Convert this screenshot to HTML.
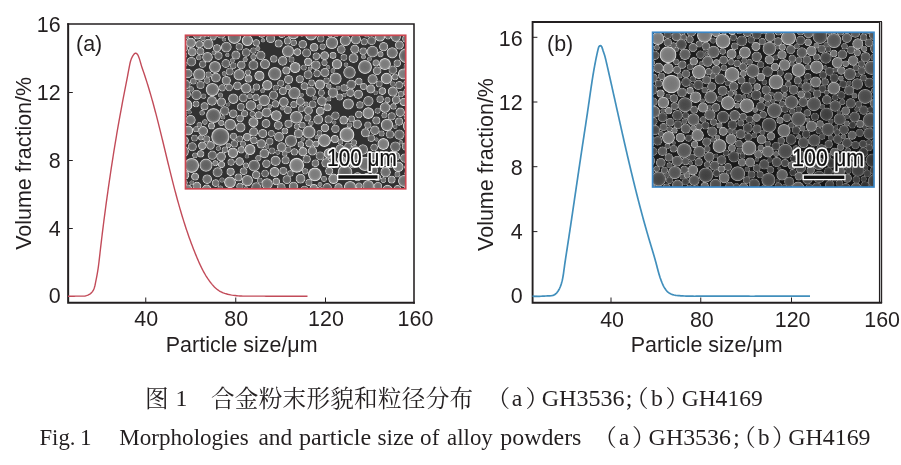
<!DOCTYPE html>
<html><head><meta charset="utf-8"><title>Fig. 1</title>
<style>
html,body{margin:0;padding:0;background:#fff;}
body{width:901px;height:465px;overflow:hidden;position:relative;font-family:"Liberation Sans",sans-serif;}
svg{position:absolute;left:0;top:0;filter:blur(0.35px);}
text{font-family:"Liberation Sans",sans-serif;fill:#231f20;}
.t{font-size:22px;}
.cap{font-family:"Liberation Serif",serif;fill:#231f20;}
.cjk{font-family:"Liberation Serif","Noto Serif CJK SC",serif;fill:#231f20;font-size:23.6px;}
</style></head><body>
<svg width="901" height="465" viewBox="0 0 901 465">
<rect width="901" height="465" fill="#fff"/>
<!--INSET_A-->
<g id="chartA">
<path d="M67.2,24.05 H414 V303.7" fill="none" stroke="#231f20" stroke-width="1.55"/>
<path d="M68.15,23.3 V302.8 H414.8" fill="none" stroke="#231f20" stroke-width="2"/>
<line x1="68" x2="72.8" y1="296.5" y2="296.5" stroke="#231f20" stroke-width="1"/>
<line x1="68" x2="72.8" y1="228.5" y2="228.5" stroke="#231f20" stroke-width="1"/>
<line x1="68" x2="72.8" y1="160.5" y2="160.5" stroke="#231f20" stroke-width="1"/>
<line x1="68" x2="72.8" y1="92.5" y2="92.5" stroke="#231f20" stroke-width="1"/>
<line x1="145.75" x2="145.75" y1="303" y2="297.5" stroke="#231f20" stroke-width="1"/>
<line x1="235.75" x2="235.75" y1="303" y2="297.5" stroke="#231f20" stroke-width="1"/>
<line x1="325.50" x2="325.50" y1="303" y2="297.5" stroke="#231f20" stroke-width="1"/>
<text class="t" transform="translate(60.60,302.80) scale(0.975,1)" text-anchor="end">0</text>
<text class="t" transform="translate(60.60,235.50) scale(0.975,1)" text-anchor="end">4</text>
<text class="t" transform="translate(60.60,167.60) scale(0.975,1)" text-anchor="end">8</text>
<text class="t" transform="translate(60.60,99.90) scale(0.975,1)" text-anchor="end">12</text>
<text class="t" transform="translate(60.60,32.00) scale(0.975,1)" text-anchor="end">16</text>
<text class="t" transform="translate(146.25,326.40) scale(0.975,1)" text-anchor="middle">40</text>
<text class="t" transform="translate(236.25,326.40) scale(0.975,1)" text-anchor="middle">80</text>
<text class="t" transform="translate(326.00,326.40) scale(0.975,1)" text-anchor="middle">120</text>
<text class="t" transform="translate(415.50,326.40) scale(0.975,1)" text-anchor="middle">160</text>
<text class="t" transform="translate(241.70,351.50) scale(0.975,1)" text-anchor="middle">Particle size/μm</text>
<text class="t" transform="translate(30.80,163.40) rotate(-90) scale(0.975,1)" text-anchor="middle">Volume fraction/%</text>
<text class="t" transform="translate(76.00,51.00) scale(0.975,1)" text-anchor="start">(a)</text>
<path d="M68.00,296.20 L69.58,296.28 L71.12,296.29 L72.64,296.25 L74.15,296.19 L75.66,296.13 L77.18,296.09 L78.73,296.10 L80.29,296.14 L81.87,296.16 L83.44,296.13 L84.98,295.98 L86.48,295.68 L87.92,295.18 L89.28,294.49 L90.53,293.62 L91.65,292.59 L92.60,291.42 L93.38,290.14 L94.00,288.75 L94.49,287.28 L94.89,285.77 L95.23,284.23 L95.54,282.68 L95.84,281.14 L96.14,279.62 L96.44,278.10 L96.73,276.60 L97.01,275.09 L97.28,273.59 L97.54,272.09 L97.78,270.59 L98.02,269.08 L98.24,267.56 L98.45,266.05 L98.65,264.52 L98.85,263.00 L99.03,261.47 L99.21,259.94 L99.39,258.41 L99.56,256.88 L99.74,255.35 L99.91,253.82 L100.08,252.29 L100.26,250.76 L100.43,249.23 L100.61,247.70 L100.79,246.17 L100.97,244.64 L101.15,243.11 L101.33,241.58 L101.51,240.05 L101.69,238.52 L101.88,236.99 L102.06,235.47 L102.25,233.94 L102.43,232.41 L102.62,230.89 L102.81,229.36 L103.00,227.83 L103.20,226.31 L103.39,224.78 L103.58,223.26 L103.78,221.73 L103.97,220.21 L104.17,218.68 L104.37,217.16 L104.57,215.63 L104.77,214.11 L104.97,212.59 L105.17,211.06 L105.37,209.54 L105.58,208.02 L105.78,206.49 L105.99,204.97 L106.19,203.45 L106.40,201.92 L106.61,200.40 L106.82,198.88 L107.03,197.35 L107.24,195.83 L107.46,194.31 L107.67,192.79 L107.89,191.27 L108.10,189.74 L108.32,188.22 L108.54,186.70 L108.76,185.18 L108.98,183.65 L109.20,182.13 L109.42,180.61 L109.64,179.09 L109.87,177.56 L110.09,176.04 L110.32,174.52 L110.55,173.00 L110.77,171.48 L111.00,169.95 L111.23,168.43 L111.46,166.91 L111.70,165.39 L111.93,163.87 L112.17,162.35 L112.40,160.82 L112.64,159.30 L112.88,157.78 L113.12,156.26 L113.36,154.74 L113.60,153.22 L113.84,151.70 L114.08,150.18 L114.33,148.66 L114.58,147.14 L114.82,145.62 L115.07,144.10 L115.32,142.58 L115.57,141.07 L115.83,139.55 L116.08,138.03 L116.34,136.51 L116.59,134.99 L116.85,133.48 L117.11,131.96 L117.37,130.45 L117.63,128.93 L117.90,127.42 L118.16,125.90 L118.43,124.39 L118.70,122.87 L118.96,121.36 L119.23,119.85 L119.51,118.33 L119.78,116.82 L120.05,115.31 L120.33,113.80 L120.61,112.29 L120.89,110.78 L121.17,109.27 L121.45,107.76 L121.73,106.26 L122.02,104.75 L122.31,103.24 L122.59,101.73 L122.88,100.23 L123.17,98.72 L123.46,97.21 L123.75,95.71 L124.05,94.20 L124.34,92.69 L124.63,91.18 L124.92,89.67 L125.22,88.16 L125.51,86.65 L125.81,85.14 L126.10,83.62 L126.39,82.11 L126.69,80.59 L126.98,79.07 L127.27,77.55 L127.56,76.02 L127.85,74.50 L128.14,72.97 L128.43,71.44 L128.72,69.91 L129.01,68.37 L129.29,66.84 L129.59,65.30 L129.90,63.78 L130.26,62.27 L130.67,60.80 L131.15,59.36 L131.71,57.96 L132.38,56.62 L133.15,55.34 L134.05,54.14 L135.08,53.29 L136.18,53.27 L137.24,54.07 L138.11,55.48 L138.83,57.18 L139.42,58.86 L139.90,60.41 L140.32,61.87 L140.71,63.28 L141.11,64.67 L141.54,66.08 L142.01,67.51 L142.51,68.96 L143.01,70.42 L143.51,71.88 L144.00,73.34 L144.49,74.80 L144.98,76.26 L145.46,77.73 L145.93,79.19 L146.40,80.66 L146.87,82.13 L147.33,83.60 L147.79,85.07 L148.24,86.54 L148.69,88.01 L149.13,89.49 L149.57,90.96 L150.01,92.44 L150.44,93.91 L150.87,95.39 L151.29,96.87 L151.71,98.35 L152.13,99.83 L152.55,101.31 L152.96,102.79 L153.37,104.27 L153.77,105.76 L154.17,107.24 L154.57,108.73 L154.97,110.21 L155.36,111.70 L155.76,113.19 L156.15,114.67 L156.53,116.16 L156.92,117.65 L157.30,119.14 L157.68,120.63 L158.06,122.12 L158.44,123.61 L158.81,125.10 L159.18,126.59 L159.56,128.09 L159.93,129.58 L160.30,131.07 L160.66,132.57 L161.03,134.06 L161.40,135.55 L161.76,137.05 L162.12,138.54 L162.49,140.04 L162.85,141.53 L163.21,143.03 L163.57,144.52 L163.93,146.02 L164.29,147.51 L164.66,149.01 L165.02,150.50 L165.38,152.00 L165.74,153.50 L166.10,154.99 L166.46,156.49 L166.82,157.98 L167.18,159.48 L167.54,160.97 L167.90,162.47 L168.27,163.96 L168.63,165.46 L169.00,166.95 L169.36,168.45 L169.73,169.94 L170.10,171.43 L170.47,172.93 L170.84,174.42 L171.21,175.91 L171.59,177.40 L171.96,178.90 L172.34,180.39 L172.72,181.88 L173.10,183.37 L173.48,184.86 L173.86,186.35 L174.25,187.83 L174.64,189.32 L175.03,190.81 L175.43,192.30 L175.82,193.78 L176.22,195.27 L176.62,196.75 L177.03,198.24 L177.43,199.72 L177.84,201.20 L178.26,202.68 L178.67,204.16 L179.09,205.64 L179.52,207.12 L179.94,208.60 L180.37,210.07 L180.81,211.55 L181.24,213.03 L181.68,214.50 L182.13,215.97 L182.58,217.44 L183.03,218.91 L183.49,220.38 L183.95,221.85 L184.41,223.32 L184.88,224.78 L185.36,226.25 L185.83,227.71 L186.32,229.17 L186.81,230.63 L187.30,232.09 L187.80,233.54 L188.30,235.00 L188.81,236.45 L189.32,237.90 L189.84,239.35 L190.37,240.79 L190.90,242.24 L191.43,243.68 L191.97,245.12 L192.52,246.56 L193.07,247.99 L193.63,249.42 L194.20,250.85 L194.77,252.28 L195.34,253.71 L195.93,255.13 L196.52,256.55 L197.11,257.97 L197.72,259.38 L198.33,260.79 L198.95,262.20 L199.58,263.60 L200.22,265.00 L200.88,266.39 L201.55,267.77 L202.24,269.14 L202.94,270.50 L203.67,271.85 L204.41,273.20 L205.18,274.52 L205.97,275.84 L206.79,277.14 L207.63,278.43 L208.50,279.70 L209.39,280.96 L210.32,282.20 L211.28,283.42 L212.28,284.61 L213.31,285.77 L214.38,286.90 L215.49,287.97 L216.65,288.98 L217.86,289.92 L219.13,290.78 L220.44,291.56 L221.81,292.24 L223.24,292.83 L224.69,293.35 L226.17,293.80 L227.66,294.20 L229.16,294.55 L230.67,294.86 L232.18,295.13 L233.69,295.36 L235.21,295.55 L236.74,295.71 L238.27,295.84 L239.80,295.94 L241.34,296.02 L242.87,296.08 L244.41,296.12 L245.96,296.15 L247.50,296.16 L249.04,296.17 L250.59,296.16 L252.13,296.16 L253.67,296.15 L255.21,296.14 L256.75,296.14 L258.29,296.14 L259.83,296.15 L261.37,296.15 L262.90,296.16 L264.44,296.17 L265.97,296.18 L267.51,296.19 L269.05,296.20 L270.58,296.21 L272.12,296.22 L273.65,296.22 L275.19,296.23 L276.73,296.23 L278.27,296.23 L279.81,296.22 L281.35,296.22 L282.88,296.22 L284.42,296.21 L285.96,296.21 L287.50,296.20 L289.04,296.20 L290.58,296.20 L292.12,296.19 L293.66,296.19 L295.20,296.18 L296.74,296.18 L298.28,296.18 L299.81,296.18 L301.35,296.19 L302.89,296.19 L304.42,296.20 L305.96,296.20 L307.50,296.21" fill="none" stroke="#c24b59" stroke-width="1.4" stroke-linejoin="round"/>
</g>
<!--INSET_B-->
<g id="chartB">
<path d="M532.5,22 H882" fill="none" stroke="#231f20" stroke-width="2"/>
<rect x="878.9" y="22" width="3.2" height="281" fill="#bdbdbd"/>
<path d="M879.5,22 V303 M881.6,22 V303" fill="none" stroke="#231f20" stroke-width="1.1"/>
<path d="M532.6,21 V302.7 H882.1" fill="none" stroke="#231f20" stroke-width="1.9"/>
<line x1="532.5" x2="537.4" y1="296.40" y2="296.40" stroke="#231f20" stroke-width="1"/>
<text class="t" transform="translate(522.60,303.00) scale(0.975,1)" text-anchor="end">0</text>
<line x1="532.5" x2="537.4" y1="231.60" y2="231.60" stroke="#231f20" stroke-width="1"/>
<text class="t" transform="translate(522.60,239.00) scale(0.975,1)" text-anchor="end">4</text>
<line x1="532.5" x2="537.4" y1="166.70" y2="166.70" stroke="#231f20" stroke-width="1"/>
<text class="t" transform="translate(522.60,174.60) scale(0.975,1)" text-anchor="end">8</text>
<line x1="532.5" x2="537.4" y1="102.00" y2="102.00" stroke="#231f20" stroke-width="1"/>
<text class="t" transform="translate(522.60,110.10) scale(0.975,1)" text-anchor="end">12</text>
<line x1="532.5" x2="537.4" y1="37.30" y2="37.30" stroke="#231f20" stroke-width="1"/>
<text class="t" transform="translate(522.60,45.70) scale(0.975,1)" text-anchor="end">16</text>
<line x1="611.00" x2="611.00" y1="303" y2="297.5" stroke="#231f20" stroke-width="1"/>
<line x1="700.75" x2="700.75" y1="303" y2="297.5" stroke="#231f20" stroke-width="1"/>
<line x1="791.50" x2="791.50" y1="303" y2="297.5" stroke="#231f20" stroke-width="1"/>
<text class="t" transform="translate(612.10,326.80) scale(0.975,1)" text-anchor="middle">40</text>
<text class="t" transform="translate(701.85,326.80) scale(0.975,1)" text-anchor="middle">80</text>
<text class="t" transform="translate(792.60,326.80) scale(0.975,1)" text-anchor="middle">120</text>
<text class="t" transform="translate(882.10,326.80) scale(0.975,1)" text-anchor="middle">160</text>
<text class="t" transform="translate(706.70,351.50) scale(0.975,1)" text-anchor="middle">Particle size/μm</text>
<text class="t" transform="translate(493.40,164.50) rotate(-90) scale(0.975,1)" text-anchor="middle">Volume fraction/%</text>
<text class="t" transform="translate(547.00,51.00) scale(0.975,1)" text-anchor="start">(b)</text>
<path d="M532.50,296.20 L534.41,296.33 L536.19,296.38 L537.86,296.36 L539.46,296.31 L541.03,296.23 L542.60,296.13 L544.21,296.05 L545.89,295.99 L547.68,295.97 L549.52,295.92 L551.33,295.75 L553.02,295.36 L554.52,294.69 L555.84,293.75 L556.98,292.59 L557.98,291.26 L558.86,289.81 L559.62,288.28 L560.30,286.72 L560.89,285.13 L561.42,283.52 L561.87,281.89 L562.28,280.25 L562.63,278.59 L562.94,276.92 L563.22,275.24 L563.48,273.56 L563.71,271.87 L563.94,270.18 L564.17,268.49 L564.40,266.80 L564.63,265.11 L564.87,263.43 L565.12,261.75 L565.37,260.06 L565.62,258.39 L565.87,256.71 L566.13,255.03 L566.39,253.35 L566.65,251.68 L566.91,250.00 L567.17,248.32 L567.42,246.65 L567.68,244.97 L567.94,243.30 L568.19,241.62 L568.45,239.94 L568.70,238.26 L568.96,236.59 L569.21,234.91 L569.47,233.23 L569.72,231.55 L569.97,229.88 L570.22,228.20 L570.47,226.52 L570.73,224.84 L570.98,223.17 L571.23,221.49 L571.48,219.81 L571.73,218.13 L571.97,216.45 L572.22,214.77 L572.47,213.09 L572.72,211.42 L572.97,209.74 L573.22,208.06 L573.46,206.38 L573.71,204.70 L573.96,203.02 L574.21,201.34 L574.45,199.66 L574.70,197.98 L574.95,196.30 L575.19,194.62 L575.44,192.94 L575.69,191.26 L575.93,189.58 L576.18,187.90 L576.43,186.23 L576.67,184.55 L576.92,182.87 L577.17,181.19 L577.42,179.51 L577.66,177.83 L577.91,176.15 L578.16,174.47 L578.41,172.79 L578.66,171.11 L578.90,169.43 L579.15,167.75 L579.40,166.07 L579.65,164.39 L579.90,162.71 L580.15,161.03 L580.40,159.35 L580.65,157.67 L580.90,155.99 L581.15,154.31 L581.41,152.64 L581.66,150.96 L581.91,149.28 L582.16,147.60 L582.42,145.92 L582.67,144.24 L582.93,142.56 L583.18,140.88 L583.44,139.21 L583.69,137.53 L583.95,135.85 L584.21,134.17 L584.46,132.49 L584.72,130.81 L584.97,129.13 L585.23,127.46 L585.48,125.78 L585.73,124.10 L585.99,122.42 L586.24,120.74 L586.49,119.06 L586.75,117.39 L587.00,115.71 L587.25,114.03 L587.50,112.35 L587.74,110.67 L587.99,108.99 L588.24,107.32 L588.48,105.64 L588.72,103.96 L588.97,102.28 L589.21,100.60 L589.45,98.92 L589.69,97.24 L589.93,95.57 L590.17,93.89 L590.42,92.21 L590.66,90.53 L590.90,88.85 L591.15,87.17 L591.40,85.50 L591.66,83.82 L591.91,82.14 L592.17,80.46 L592.43,78.79 L592.70,77.11 L592.97,75.44 L593.25,73.76 L593.53,72.09 L593.82,70.41 L594.11,68.74 L594.41,67.06 L594.72,65.39 L595.03,63.72 L595.36,62.04 L595.68,60.37 L596.02,58.70 L596.37,57.03 L596.72,55.36 L597.09,53.69 L597.46,52.02 L597.84,50.36 L598.24,48.69 L598.73,47.08 L599.67,45.78 L600.95,45.68 L601.88,47.03 L602.49,48.88 L603.04,50.61 L603.59,52.19 L604.11,53.71 L604.60,55.24 L605.05,56.84 L605.47,58.48 L605.88,60.15 L606.27,61.83 L606.65,63.50 L607.04,65.17 L607.42,66.83 L607.80,68.48 L608.18,70.14 L608.55,71.79 L608.93,73.45 L609.30,75.10 L609.68,76.76 L610.05,78.41 L610.42,80.06 L610.80,81.72 L611.17,83.37 L611.54,85.03 L611.91,86.68 L612.28,88.34 L612.65,89.99 L613.02,91.65 L613.39,93.31 L613.76,94.96 L614.13,96.62 L614.50,98.27 L614.87,99.93 L615.24,101.59 L615.61,103.24 L615.97,104.90 L616.34,106.56 L616.71,108.21 L617.08,109.87 L617.45,111.53 L617.82,113.18 L618.19,114.84 L618.56,116.49 L618.93,118.15 L619.30,119.81 L619.67,121.47 L620.04,123.12 L620.41,124.78 L620.78,126.44 L621.15,128.09 L621.52,129.75 L621.90,131.40 L622.27,133.06 L622.64,134.72 L623.02,136.37 L623.39,138.03 L623.77,139.69 L624.15,141.34 L624.52,143.00 L624.90,144.65 L625.28,146.31 L625.66,147.96 L626.04,149.62 L626.42,151.27 L626.81,152.93 L627.19,154.58 L627.57,156.24 L627.96,157.89 L628.35,159.54 L628.73,161.20 L629.12,162.85 L629.51,164.50 L629.90,166.15 L630.29,167.80 L630.69,169.46 L631.08,171.11 L631.48,172.76 L631.88,174.41 L632.28,176.06 L632.68,177.71 L633.08,179.36 L633.48,181.00 L633.89,182.65 L634.29,184.30 L634.70,185.95 L635.11,187.59 L635.52,189.24 L635.93,190.89 L636.35,192.53 L636.76,194.18 L637.18,195.82 L637.60,197.46 L638.02,199.11 L638.45,200.75 L638.87,202.39 L639.30,204.03 L639.73,205.67 L640.16,207.31 L640.59,208.95 L641.03,210.59 L641.47,212.23 L641.91,213.87 L642.35,215.50 L642.79,217.14 L643.24,218.78 L643.69,220.41 L644.14,222.05 L644.60,223.68 L645.06,225.32 L645.52,226.95 L645.98,228.59 L646.45,230.22 L646.91,231.86 L647.39,233.49 L647.86,235.12 L648.34,236.76 L648.82,238.39 L649.30,240.02 L649.79,241.66 L650.28,243.29 L650.77,244.92 L651.26,246.55 L651.75,248.18 L652.24,249.81 L652.73,251.44 L653.22,253.07 L653.70,254.70 L654.17,256.33 L654.64,257.95 L655.10,259.58 L655.55,261.20 L656.00,262.83 L656.43,264.45 L656.85,266.07 L657.27,267.69 L657.70,269.31 L658.13,270.93 L658.57,272.55 L659.04,274.16 L659.53,275.78 L660.04,277.41 L660.60,279.03 L661.19,280.65 L661.83,282.28 L662.52,283.91 L663.27,285.53 L664.08,287.10 L664.98,288.61 L665.97,290.01 L667.05,291.29 L668.25,292.40 L669.56,293.33 L670.99,294.05 L672.53,294.61 L674.14,295.02 L675.81,295.31 L677.52,295.53 L679.25,295.68 L680.97,295.81 L682.69,295.92 L684.40,296.01 L686.11,296.08 L687.82,296.13 L689.52,296.17 L691.22,296.20 L692.91,296.22 L694.61,296.23 L696.30,296.22 L697.99,296.22 L699.69,296.21 L701.38,296.19 L703.07,296.18 L704.76,296.17 L706.45,296.16 L708.15,296.15 L709.84,296.14 L711.53,296.14 L713.23,296.14 L714.93,296.14 L716.62,296.14 L718.32,296.14 L720.02,296.14 L721.72,296.15 L723.42,296.15 L725.11,296.16 L726.81,296.16 L728.51,296.17 L730.21,296.18 L731.91,296.18 L733.61,296.19 L735.31,296.19 L737.01,296.20 L738.71,296.21 L740.41,296.21 L742.11,296.22 L743.81,296.22 L745.50,296.22 L747.20,296.22 L748.90,296.22 L750.60,296.23 L752.29,296.23 L753.99,296.23 L755.69,296.22 L757.39,296.22 L759.08,296.22 L760.78,296.22 L762.48,296.22 L764.17,296.22 L765.87,296.21 L767.57,296.21 L769.26,296.21 L770.96,296.21 L772.66,296.20 L774.35,296.20 L776.05,296.20 L777.75,296.19 L779.44,296.19 L781.14,296.19 L782.84,296.19 L784.53,296.19 L786.23,296.18 L787.93,296.18 L789.63,296.18 L791.32,296.18 L793.02,296.18 L794.72,296.18 L796.42,296.18 L798.11,296.19 L799.81,296.19 L801.51,296.19 L803.21,296.20 L804.91,296.20 L806.61,296.21 L808.31,296.21 L810.01,296.22" fill="none" stroke="#418fbc" stroke-width="1.7" stroke-linejoin="round"/>
</g>
<defs><clipPath id="clipA"><rect x="185.50" y="35.30" width="220.20" height="153.50"/></clipPath><radialGradient id="gA0" cx="0.5" cy="0.5" r="0.5"><stop offset="0" stop-color="#606060"/><stop offset="0.55" stop-color="#666666"/><stop offset="0.78" stop-color="#7b7b7b"/><stop offset="0.9" stop-color="#c4c4c4"/><stop offset="0.96" stop-color="#bebebe"/><stop offset="1" stop-color="#7c7c7c"/></radialGradient><radialGradient id="gA1" cx="0.5" cy="0.5" r="0.5"><stop offset="0" stop-color="#6c6c6c"/><stop offset="0.55" stop-color="#727272"/><stop offset="0.78" stop-color="#878787"/><stop offset="0.9" stop-color="#d0d0d0"/><stop offset="0.96" stop-color="#cacaca"/><stop offset="1" stop-color="#888888"/></radialGradient><radialGradient id="gA2" cx="0.5" cy="0.5" r="0.5"><stop offset="0" stop-color="#7a7a7a"/><stop offset="0.55" stop-color="#808080"/><stop offset="0.78" stop-color="#959595"/><stop offset="0.9" stop-color="#dedede"/><stop offset="0.96" stop-color="#d8d8d8"/><stop offset="1" stop-color="#969696"/></radialGradient><filter id="blA" x="-5%" y="-5%" width="110%" height="110%"><feGaussianBlur stdDeviation="0.50"/></filter><filter id="tbA"><feGaussianBlur stdDeviation="0.3"/></filter></defs><g clip-path="url(#clipA)"><rect x="183.50" y="33.30" width="224.20" height="157.50" fill="#313131"/><g filter="url(#blA)"><g fill="url(#gA0)"><circle cx="220.4" cy="136.7" r="9.3"/><circle cx="345.0" cy="172.4" r="7.5"/><circle cx="406.3" cy="55.7" r="7.5"/><circle cx="213.5" cy="115.6" r="7.5"/><circle cx="206.0" cy="165.2" r="6.6"/><circle cx="349.5" cy="72.4" r="6.3"/><circle cx="291.0" cy="140.9" r="6.1"/><circle cx="254.1" cy="165.6" r="5.9"/><circle cx="183.0" cy="151.5" r="5.9"/><circle cx="372.5" cy="51.6" r="5.9"/><circle cx="226.3" cy="47.1" r="5.4"/><circle cx="395.4" cy="146.7" r="5.3"/><circle cx="399.4" cy="134.6" r="5.2"/><circle cx="362.8" cy="149.5" r="5.2"/><circle cx="196.5" cy="94.9" r="5.2"/><circle cx="221.1" cy="33.4" r="5.2"/><circle cx="368.4" cy="101.1" r="5.2"/><circle cx="256.4" cy="187.4" r="5.1"/><circle cx="310.8" cy="91.7" r="5.1"/><circle cx="217.6" cy="172.3" r="5.0"/><circle cx="185.6" cy="84.5" r="5.0"/><circle cx="253.4" cy="65.0" r="5.0"/><circle cx="191.4" cy="61.7" r="4.8"/><circle cx="327.1" cy="187.9" r="4.8"/><circle cx="351.2" cy="84.5" r="4.8"/><circle cx="260.8" cy="55.4" r="4.7"/><circle cx="224.7" cy="110.9" r="4.7"/><circle cx="273.5" cy="95.2" r="4.6"/><circle cx="212.3" cy="155.2" r="4.6"/><circle cx="306.6" cy="52.9" r="4.5"/><circle cx="320.1" cy="155.9" r="4.5"/><circle cx="308.1" cy="74.8" r="4.5"/><circle cx="192.3" cy="146.7" r="4.5"/><circle cx="286.9" cy="179.6" r="4.4"/><circle cx="392.9" cy="70.0" r="4.4"/><circle cx="225.8" cy="63.5" r="4.4"/><circle cx="371.6" cy="40.7" r="4.4"/><circle cx="243.2" cy="97.9" r="4.4"/><circle cx="246.2" cy="52.5" r="4.3"/><circle cx="304.4" cy="189.9" r="4.2"/><circle cx="335.4" cy="115.7" r="4.2"/><circle cx="390.0" cy="134.4" r="4.2"/><circle cx="306.7" cy="159.2" r="4.1"/><circle cx="200.5" cy="85.0" r="4.1"/><circle cx="218.5" cy="55.8" r="4.1"/><circle cx="328.6" cy="119.4" r="4.1"/><circle cx="391.7" cy="116.3" r="4.0"/><circle cx="399.3" cy="85.1" r="4.0"/><circle cx="229.7" cy="71.6" r="3.9"/><circle cx="374.2" cy="170.4" r="3.9"/><circle cx="240.8" cy="106.9" r="3.9"/><circle cx="374.1" cy="147.5" r="3.8"/><circle cx="265.1" cy="173.5" r="3.8"/><circle cx="348.1" cy="146.2" r="3.8"/><circle cx="312.7" cy="104.2" r="3.8"/><circle cx="269.6" cy="141.6" r="3.8"/><circle cx="371.3" cy="138.2" r="3.8"/><circle cx="317.1" cy="73.5" r="3.7"/><circle cx="320.8" cy="38.8" r="3.7"/><circle cx="239.3" cy="46.8" r="3.7"/><circle cx="234.4" cy="143.7" r="3.7"/><circle cx="202.7" cy="64.2" r="3.6"/><circle cx="229.3" cy="87.6" r="3.6"/><circle cx="280.7" cy="83.3" r="3.5"/><circle cx="364.3" cy="41.7" r="3.5"/><circle cx="194.5" cy="138.1" r="3.4"/><circle cx="379.2" cy="83.9" r="3.4"/><circle cx="271.3" cy="133.4" r="3.4"/><circle cx="206.9" cy="33.9" r="3.4"/><circle cx="343.9" cy="57.4" r="3.4"/><circle cx="272.0" cy="150.9" r="3.4"/><circle cx="301.3" cy="108.7" r="3.4"/><circle cx="321.4" cy="92.8" r="3.4"/><circle cx="239.7" cy="138.9" r="3.3"/><circle cx="233.2" cy="65.7" r="3.3"/><circle cx="184.0" cy="55.2" r="3.2"/><circle cx="326.6" cy="80.7" r="3.2"/><circle cx="253.4" cy="50.6" r="3.2"/><circle cx="290.4" cy="173.5" r="3.2"/><circle cx="288.4" cy="149.7" r="3.1"/><circle cx="406.7" cy="66.5" r="3.1"/><circle cx="291.5" cy="59.6" r="3.0"/><circle cx="377.6" cy="110.7" r="3.0"/><circle cx="275.7" cy="87.7" r="2.9"/><circle cx="303.8" cy="67.6" r="2.9"/><circle cx="252.4" cy="114.0" r="2.9"/><circle cx="184.7" cy="64.1" r="2.8"/><circle cx="259.9" cy="180.6" r="2.8"/><circle cx="319.4" cy="132.9" r="2.8"/><circle cx="392.9" cy="84.1" r="2.7"/><circle cx="222.0" cy="180.0" r="2.6"/><circle cx="203.6" cy="96.2" r="2.6"/><circle cx="218.4" cy="148.3" r="2.5"/><circle cx="320.1" cy="189.1" r="2.5"/><circle cx="301.8" cy="34.3" r="2.4"/><circle cx="277.7" cy="152.4" r="2.4"/><circle cx="375.7" cy="92.8" r="2.3"/><circle cx="395.3" cy="126.7" r="2.2"/><circle cx="189.6" cy="112.3" r="2.1"/><circle cx="372.2" cy="178.2" r="2.1"/><circle cx="228.2" cy="104.5" r="2.1"/><circle cx="246.8" cy="156.4" r="2.1"/></g><g fill="url(#gA1)"><circle cx="274.8" cy="73.8" r="6.8"/><circle cx="365.0" cy="67.0" r="7.0"/><circle cx="215.0" cy="67.0" r="6.0"/><circle cx="387.0" cy="125.0" r="6.2"/><circle cx="191.7" cy="165.4" r="7.5"/><circle cx="365.1" cy="163.9" r="7.2"/><circle cx="234.4" cy="37.1" r="6.8"/><circle cx="212.4" cy="89.6" r="6.7"/><circle cx="309.0" cy="132.1" r="6.6"/><circle cx="293.3" cy="32.8" r="6.5"/><circle cx="296.4" cy="117.3" r="6.4"/><circle cx="331.9" cy="42.8" r="6.3"/><circle cx="199.3" cy="74.5" r="6.2"/><circle cx="350.1" cy="187.2" r="6.2"/><circle cx="294.4" cy="93.1" r="6.2"/><circle cx="335.6" cy="78.6" r="6.1"/><circle cx="288.1" cy="51.3" r="6.1"/><circle cx="404.0" cy="180.9" r="6.0"/><circle cx="368.2" cy="185.9" r="5.9"/><circle cx="230.2" cy="124.7" r="5.9"/><circle cx="408.6" cy="125.9" r="5.8"/><circle cx="264.2" cy="100.4" r="5.8"/><circle cx="247.3" cy="180.6" r="5.7"/><circle cx="239.1" cy="74.7" r="5.7"/><circle cx="267.1" cy="183.9" r="5.7"/><circle cx="382.6" cy="161.1" r="5.6"/><circle cx="345.4" cy="40.5" r="5.6"/><circle cx="348.3" cy="104.0" r="5.6"/><circle cx="392.2" cy="52.8" r="5.6"/><circle cx="387.5" cy="190.2" r="5.4"/><circle cx="385.1" cy="107.5" r="5.3"/><circle cx="207.5" cy="57.2" r="5.3"/><circle cx="208.2" cy="44.0" r="5.3"/><circle cx="250.9" cy="105.5" r="5.3"/><circle cx="233.3" cy="98.7" r="5.2"/><circle cx="385.6" cy="172.2" r="5.2"/><circle cx="332.9" cy="92.6" r="5.2"/><circle cx="246.1" cy="88.3" r="5.2"/><circle cx="275.6" cy="160.9" r="5.1"/><circle cx="355.9" cy="39.3" r="5.1"/><circle cx="395.8" cy="36.8" r="5.1"/><circle cx="190.6" cy="120.0" r="5.1"/><circle cx="372.6" cy="79.3" r="5.1"/><circle cx="392.8" cy="91.6" r="5.0"/><circle cx="240.5" cy="127.4" r="5.0"/><circle cx="265.0" cy="64.1" r="5.0"/><circle cx="203.1" cy="131.0" r="4.9"/><circle cx="266.6" cy="112.5" r="4.9"/><circle cx="215.9" cy="77.6" r="4.9"/><circle cx="300.5" cy="178.7" r="4.9"/><circle cx="318.2" cy="119.6" r="4.9"/><circle cx="279.0" cy="136.8" r="4.9"/><circle cx="283.8" cy="102.0" r="4.9"/><circle cx="355.2" cy="155.8" r="4.9"/><circle cx="212.0" cy="100.8" r="4.9"/><circle cx="353.5" cy="58.1" r="4.9"/><circle cx="221.1" cy="156.6" r="4.8"/><circle cx="264.3" cy="153.4" r="4.8"/><circle cx="282.7" cy="60.9" r="4.8"/><circle cx="321.9" cy="101.1" r="4.8"/><circle cx="315.8" cy="65.2" r="4.8"/><circle cx="281.6" cy="147.1" r="4.8"/><circle cx="207.2" cy="179.2" r="4.8"/><circle cx="340.1" cy="149.0" r="4.7"/><circle cx="326.0" cy="162.9" r="4.7"/><circle cx="187.9" cy="73.5" r="4.7"/><circle cx="400.2" cy="112.3" r="4.7"/><circle cx="374.9" cy="130.3" r="4.7"/><circle cx="261.3" cy="143.9" r="4.7"/><circle cx="383.6" cy="46.7" r="4.6"/><circle cx="221.4" cy="102.1" r="4.6"/><circle cx="357.3" cy="124.2" r="4.6"/><circle cx="226.3" cy="80.6" r="4.6"/><circle cx="404.7" cy="158.1" r="4.6"/><circle cx="270.6" cy="38.5" r="4.6"/><circle cx="312.4" cy="150.9" r="4.6"/><circle cx="253.7" cy="131.9" r="4.6"/><circle cx="324.9" cy="72.5" r="4.6"/><circle cx="358.4" cy="94.3" r="4.6"/><circle cx="293.5" cy="186.3" r="4.6"/><circle cx="298.5" cy="133.6" r="4.6"/><circle cx="365.4" cy="132.8" r="4.5"/><circle cx="262.7" cy="133.5" r="4.5"/><circle cx="288.6" cy="79.5" r="4.5"/><circle cx="235.9" cy="55.1" r="4.5"/><circle cx="399.4" cy="45.1" r="4.5"/><circle cx="354.8" cy="49.2" r="4.5"/><circle cx="357.5" cy="176.7" r="4.5"/><circle cx="186.5" cy="94.0" r="4.4"/><circle cx="266.0" cy="123.5" r="4.4"/><circle cx="395.8" cy="156.4" r="4.4"/><circle cx="278.3" cy="125.3" r="4.4"/><circle cx="407.6" cy="92.0" r="4.4"/><circle cx="241.3" cy="65.0" r="4.3"/><circle cx="210.5" cy="145.4" r="4.3"/><circle cx="341.3" cy="49.5" r="4.3"/><circle cx="237.4" cy="85.9" r="4.3"/><circle cx="281.3" cy="187.2" r="4.3"/><circle cx="302.7" cy="44.2" r="4.3"/><circle cx="300.3" cy="101.4" r="4.3"/><circle cx="233.2" cy="113.7" r="4.3"/><circle cx="377.1" cy="70.8" r="4.3"/><circle cx="308.5" cy="110.4" r="4.3"/><circle cx="396.1" cy="99.8" r="4.2"/><circle cx="266.4" cy="163.7" r="4.2"/><circle cx="377.9" cy="186.1" r="4.2"/><circle cx="335.4" cy="128.9" r="4.2"/><circle cx="406.0" cy="146.5" r="4.2"/><circle cx="399.1" cy="121.6" r="4.1"/><circle cx="288.5" cy="123.8" r="4.1"/><circle cx="406.3" cy="38.8" r="4.1"/><circle cx="256.2" cy="174.9" r="4.1"/><circle cx="372.8" cy="156.2" r="4.1"/><circle cx="350.4" cy="92.8" r="4.1"/><circle cx="282.8" cy="91.0" r="4.0"/><circle cx="376.3" cy="120.5" r="4.0"/><circle cx="287.7" cy="110.0" r="4.0"/><circle cx="283.4" cy="170.9" r="4.0"/><circle cx="204.5" cy="106.2" r="4.0"/><circle cx="217.0" cy="48.2" r="4.0"/><circle cx="299.8" cy="79.2" r="4.0"/><circle cx="285.6" cy="160.2" r="4.0"/><circle cx="329.2" cy="171.0" r="4.0"/><circle cx="278.7" cy="43.4" r="4.0"/><circle cx="309.3" cy="143.2" r="4.0"/><circle cx="200.4" cy="51.3" r="3.9"/><circle cx="258.8" cy="115.2" r="3.9"/><circle cx="238.4" cy="177.4" r="3.9"/><circle cx="304.5" cy="86.2" r="3.9"/><circle cx="199.4" cy="44.2" r="3.9"/><circle cx="315.4" cy="163.2" r="3.8"/><circle cx="215.7" cy="183.1" r="3.8"/><circle cx="316.4" cy="56.2" r="3.8"/><circle cx="243.6" cy="171.2" r="3.8"/><circle cx="397.5" cy="188.9" r="3.8"/><circle cx="333.9" cy="164.1" r="3.8"/><circle cx="363.2" cy="51.3" r="3.8"/><circle cx="281.8" cy="34.2" r="3.7"/><circle cx="407.0" cy="83.4" r="3.7"/><circle cx="358.8" cy="114.5" r="3.7"/><circle cx="273.8" cy="58.9" r="3.7"/><circle cx="359.9" cy="104.9" r="3.7"/><circle cx="397.3" cy="63.2" r="3.7"/><circle cx="358.8" cy="81.5" r="3.7"/><circle cx="253.9" cy="140.4" r="3.7"/><circle cx="240.1" cy="118.4" r="3.7"/><circle cx="275.4" cy="103.9" r="3.7"/><circle cx="344.1" cy="87.9" r="3.7"/><circle cx="380.1" cy="99.2" r="3.7"/><circle cx="294.4" cy="151.9" r="3.6"/><circle cx="256.3" cy="42.8" r="3.6"/><circle cx="239.9" cy="186.4" r="3.6"/><circle cx="231.1" cy="162.2" r="3.6"/><circle cx="367.9" cy="125.1" r="3.6"/><circle cx="377.4" cy="177.5" r="3.6"/><circle cx="255.9" cy="97.3" r="3.6"/><circle cx="307.8" cy="117.9" r="3.6"/><circle cx="184.4" cy="48.1" r="3.6"/><circle cx="256.4" cy="87.0" r="3.6"/><circle cx="233.5" cy="136.4" r="3.6"/><circle cx="222.2" cy="87.8" r="3.6"/><circle cx="186.0" cy="35.3" r="3.6"/><circle cx="287.6" cy="40.9" r="3.6"/><circle cx="353.3" cy="164.8" r="3.5"/><circle cx="244.6" cy="113.5" r="3.5"/><circle cx="339.7" cy="97.1" r="3.5"/><circle cx="308.9" cy="182.4" r="3.5"/><circle cx="293.8" cy="104.5" r="3.5"/><circle cx="206.7" cy="138.9" r="3.5"/><circle cx="363.6" cy="86.5" r="3.5"/><circle cx="351.6" cy="118.9" r="3.4"/><circle cx="311.6" cy="82.9" r="3.3"/><circle cx="366.9" cy="34.2" r="3.3"/><circle cx="302.3" cy="125.1" r="3.3"/><circle cx="395.1" cy="76.9" r="3.3"/><circle cx="196.1" cy="104.0" r="3.3"/><circle cx="193.3" cy="81.2" r="3.3"/><circle cx="293.7" cy="42.8" r="3.2"/><circle cx="406.9" cy="117.1" r="3.2"/><circle cx="393.4" cy="106.4" r="3.2"/><circle cx="207.0" cy="80.5" r="3.2"/><circle cx="225.0" cy="149.7" r="3.2"/><circle cx="354.9" cy="148.2" r="3.1"/><circle cx="388.6" cy="155.2" r="3.1"/><circle cx="305.2" cy="171.3" r="3.1"/><circle cx="322.6" cy="46.7" r="3.1"/><circle cx="324.5" cy="62.8" r="3.1"/><circle cx="400.9" cy="94.1" r="3.1"/><circle cx="353.9" cy="142.5" r="3.1"/><circle cx="258.4" cy="158.1" r="3.1"/><circle cx="208.6" cy="74.6" r="3.1"/><circle cx="253.4" cy="56.9" r="3.0"/><circle cx="387.5" cy="99.9" r="3.0"/><circle cx="388.0" cy="36.4" r="3.0"/><circle cx="336.1" cy="34.1" r="3.0"/><circle cx="348.1" cy="158.8" r="3.0"/><circle cx="381.6" cy="133.5" r="3.0"/><circle cx="384.4" cy="115.3" r="3.0"/><circle cx="220.3" cy="188.3" r="2.9"/><circle cx="247.9" cy="72.4" r="2.9"/><circle cx="324.0" cy="178.9" r="2.9"/><circle cx="397.4" cy="174.4" r="2.9"/><circle cx="184.5" cy="113.6" r="2.9"/><circle cx="245.9" cy="165.5" r="2.9"/><circle cx="196.0" cy="129.2" r="2.9"/><circle cx="243.0" cy="143.8" r="2.9"/><circle cx="296.8" cy="126.5" r="2.9"/><circle cx="249.9" cy="96.2" r="2.8"/><circle cx="284.7" cy="153.7" r="2.8"/><circle cx="383.4" cy="180.1" r="2.8"/><circle cx="407.0" cy="167.2" r="2.8"/><circle cx="195.0" cy="155.3" r="2.8"/><circle cx="407.2" cy="173.2" r="2.8"/><circle cx="204.9" cy="122.0" r="2.7"/><circle cx="390.3" cy="165.3" r="2.7"/><circle cx="191.2" cy="88.9" r="2.7"/><circle cx="349.5" cy="125.2" r="2.7"/><circle cx="202.1" cy="112.8" r="2.7"/><circle cx="199.3" cy="124.7" r="2.7"/><circle cx="340.4" cy="142.0" r="2.7"/><circle cx="198.8" cy="57.6" r="2.6"/><circle cx="202.9" cy="38.3" r="2.6"/><circle cx="310.9" cy="123.3" r="2.6"/><circle cx="406.6" cy="188.4" r="2.6"/><circle cx="220.5" cy="95.1" r="2.5"/><circle cx="328.8" cy="99.0" r="2.5"/><circle cx="262.7" cy="90.7" r="2.4"/><circle cx="232.4" cy="60.6" r="2.4"/><circle cx="332.9" cy="70.7" r="2.4"/><circle cx="224.2" cy="73.7" r="2.4"/><circle cx="369.6" cy="59.0" r="2.4"/><circle cx="191.7" cy="182.7" r="2.3"/><circle cx="346.0" cy="64.7" r="2.3"/><circle cx="314.7" cy="98.0" r="2.3"/><circle cx="338.0" cy="87.9" r="2.2"/><circle cx="252.5" cy="90.7" r="2.2"/><circle cx="400.9" cy="142.3" r="2.2"/><circle cx="246.1" cy="188.4" r="2.2"/><circle cx="223.1" cy="117.4" r="2.1"/><circle cx="344.4" cy="95.1" r="2.1"/><circle cx="376.4" cy="139.5" r="2.1"/><circle cx="334.3" cy="122.6" r="2.1"/><circle cx="213.7" cy="52.8" r="2.1"/><circle cx="302.7" cy="139.4" r="2.1"/><circle cx="267.2" cy="147.0" r="2.1"/><circle cx="301.8" cy="95.1" r="2.1"/><circle cx="328.0" cy="67.2" r="2.1"/><circle cx="223.9" cy="39.5" r="2.1"/><circle cx="316.9" cy="137.2" r="2.1"/></g><g fill="url(#gA2)"><circle cx="346.9" cy="134.7" r="7.5"/><circle cx="296.7" cy="165.3" r="7.5"/><circle cx="314.9" cy="174.4" r="6.9"/><circle cx="324.4" cy="140.5" r="6.5"/><circle cx="311.1" cy="34.4" r="6.1"/><circle cx="384.9" cy="64.1" r="6.0"/><circle cx="186.5" cy="105.2" r="5.9"/><circle cx="230.0" cy="182.3" r="5.9"/><circle cx="368.3" cy="113.1" r="5.9"/><circle cx="383.3" cy="144.0" r="5.9"/><circle cx="386.6" cy="78.5" r="5.8"/><circle cx="247.4" cy="40.5" r="5.6"/><circle cx="250.0" cy="149.5" r="5.5"/><circle cx="403.4" cy="73.9" r="5.5"/><circle cx="295.1" cy="67.5" r="5.5"/><circle cx="276.3" cy="115.6" r="5.4"/><circle cx="398.3" cy="166.8" r="5.3"/><circle cx="380.0" cy="36.3" r="5.3"/><circle cx="329.0" cy="153.5" r="5.3"/><circle cx="333.5" cy="178.8" r="5.2"/><circle cx="337.0" cy="64.1" r="5.2"/><circle cx="232.9" cy="152.8" r="5.2"/><circle cx="267.3" cy="85.2" r="5.2"/><circle cx="190.8" cy="42.8" r="5.1"/><circle cx="259.4" cy="75.9" r="5.1"/><circle cx="319.9" cy="84.6" r="5.1"/><circle cx="253.4" cy="122.2" r="5.0"/><circle cx="184.3" cy="175.0" r="5.0"/><circle cx="274.6" cy="172.0" r="5.0"/><circle cx="188.3" cy="130.5" r="4.9"/><circle cx="206.7" cy="189.3" r="4.8"/><circle cx="302.9" cy="151.7" r="4.6"/><circle cx="370.8" cy="88.9" r="4.5"/><circle cx="192.1" cy="51.9" r="4.5"/><circle cx="184.4" cy="140.6" r="4.4"/><circle cx="196.9" cy="186.1" r="4.4"/><circle cx="324.6" cy="55.7" r="4.4"/><circle cx="343.8" cy="120.1" r="4.4"/><circle cx="320.2" cy="111.0" r="4.3"/><circle cx="239.6" cy="161.5" r="4.3"/><circle cx="314.1" cy="47.2" r="4.3"/><circle cx="325.0" cy="127.9" r="4.2"/><circle cx="197.3" cy="35.3" r="4.2"/><circle cx="261.8" cy="33.5" r="4.2"/><circle cx="341.3" cy="159.7" r="4.2"/><circle cx="202.3" cy="145.8" r="4.2"/><circle cx="247.1" cy="137.1" r="4.2"/><circle cx="313.8" cy="188.1" r="4.1"/><circle cx="308.2" cy="61.9" r="4.1"/><circle cx="230.6" cy="171.8" r="4.1"/><circle cx="187.9" cy="188.6" r="4.1"/><circle cx="338.5" cy="187.3" r="4.1"/><circle cx="334.8" cy="139.1" r="4.0"/><circle cx="286.3" cy="70.5" r="4.0"/><circle cx="403.6" cy="101.9" r="4.0"/><circle cx="327.5" cy="107.3" r="3.9"/><circle cx="195.1" cy="176.6" r="3.9"/><circle cx="248.5" cy="78.7" r="3.9"/><circle cx="391.7" cy="179.6" r="3.9"/><circle cx="382.3" cy="91.1" r="3.8"/><circle cx="297.4" cy="52.1" r="3.8"/><circle cx="276.3" cy="181.5" r="3.7"/><circle cx="213.1" cy="36.8" r="3.6"/><circle cx="200.7" cy="153.8" r="3.6"/><circle cx="241.2" cy="149.8" r="3.6"/><circle cx="376.0" cy="62.9" r="3.5"/><circle cx="221.5" cy="164.5" r="3.5"/><circle cx="211.5" cy="125.9" r="3.4"/><circle cx="333.0" cy="55.4" r="3.4"/><circle cx="366.9" cy="176.4" r="3.4"/><circle cx="284.9" cy="131.0" r="3.3"/><circle cx="359.0" cy="185.7" r="3.3"/><circle cx="300.8" cy="144.5" r="3.2"/><circle cx="315.8" cy="144.0" r="3.2"/><circle cx="329.9" cy="34.1" r="3.1"/><circle cx="221.3" cy="123.0" r="3.0"/><circle cx="380.5" cy="54.2" r="3.0"/><circle cx="215.3" cy="163.2" r="2.9"/><circle cx="288.0" cy="87.2" r="2.8"/><circle cx="200.8" cy="137.7" r="2.7"/><circle cx="328.8" cy="86.1" r="2.7"/><circle cx="185.0" cy="182.6" r="2.7"/><circle cx="259.2" cy="107.0" r="2.7"/><circle cx="228.4" cy="145.5" r="2.6"/><circle cx="245.2" cy="59.5" r="2.5"/><circle cx="306.1" cy="104.1" r="2.5"/><circle cx="320.0" cy="184.4" r="2.4"/><circle cx="257.9" cy="48.5" r="2.4"/><circle cx="363.5" cy="56.9" r="2.4"/><circle cx="269.8" cy="106.5" r="2.3"/><circle cx="227.4" cy="55.0" r="2.1"/><circle cx="282.3" cy="108.4" r="2.1"/><circle cx="310.0" cy="68.7" r="2.1"/><circle cx="263.0" cy="40.3" r="2.1"/></g></g><rect x="337.70" y="174.60" width="40.50" height="4.80" fill="#111" stroke="#fff" stroke-width="1.3"/><g filter="url(#tbA)"><text transform="translate(327.10,165.60) scale(0.895,1)" style="font-size:23.2px;fill:#fff;stroke:#fff;stroke-width:3.6px;stroke-linejoin:round">100 μm</text><text transform="translate(327.10,165.60) scale(0.895,1)" style="font-size:23.2px;fill:#111;stroke:#111;stroke-width:0.25px">100 μm</text></g></g><rect x="185.50" y="35.30" width="220.20" height="153.50" fill="none" stroke="#cc4650" stroke-width="1.70"/>
<defs><clipPath id="clipB"><rect x="652.60" y="32.30" width="221.40" height="154.70"/></clipPath><radialGradient id="gB0" cx="0.5" cy="0.5" r="0.5"><stop offset="0" stop-color="#4c4c4c"/><stop offset="0.58" stop-color="#525252"/><stop offset="0.82" stop-color="#646464"/><stop offset="0.92" stop-color="#acacac"/><stop offset="0.97" stop-color="#a4a4a4"/><stop offset="1" stop-color="#5a5a5a"/></radialGradient><radialGradient id="gB1" cx="0.5" cy="0.5" r="0.5"><stop offset="0" stop-color="#5e5e5e"/><stop offset="0.58" stop-color="#646464"/><stop offset="0.82" stop-color="#767676"/><stop offset="0.92" stop-color="#bebebe"/><stop offset="0.97" stop-color="#b6b6b6"/><stop offset="1" stop-color="#6c6c6c"/></radialGradient><radialGradient id="gB2" cx="0.5" cy="0.5" r="0.5"><stop offset="0" stop-color="#7a7a7a"/><stop offset="0.58" stop-color="#808080"/><stop offset="0.82" stop-color="#929292"/><stop offset="0.92" stop-color="#dadada"/><stop offset="0.97" stop-color="#d2d2d2"/><stop offset="1" stop-color="#888888"/></radialGradient><filter id="blB" x="-5%" y="-5%" width="110%" height="110%"><feGaussianBlur stdDeviation="0.50"/></filter><filter id="tbB"><feGaussianBlur stdDeviation="0.3"/></filter></defs><g clip-path="url(#clipB)"><rect x="650.60" y="30.30" width="225.40" height="158.70" fill="#1e1e1e"/><g filter="url(#blB)"><g fill="url(#gB0)"><circle cx="705.8" cy="175.0" r="7.5"/><circle cx="658.6" cy="178.9" r="7.5"/><circle cx="685.0" cy="104.7" r="7.5"/><circle cx="769.1" cy="125.1" r="7.5"/><circle cx="820.0" cy="36.4" r="7.5"/><circle cx="872.6" cy="160.4" r="6.9"/><circle cx="826.5" cy="114.2" r="6.6"/><circle cx="723.1" cy="117.1" r="6.3"/><circle cx="819.2" cy="176.9" r="6.2"/><circle cx="746.5" cy="88.2" r="6.2"/><circle cx="825.8" cy="57.9" r="5.8"/><circle cx="733.8" cy="156.8" r="5.6"/><circle cx="649.5" cy="160.7" r="5.6"/><circle cx="720.1" cy="79.0" r="5.5"/><circle cx="652.0" cy="89.6" r="5.5"/><circle cx="681.3" cy="44.4" r="5.4"/><circle cx="741.8" cy="40.9" r="5.4"/><circle cx="767.5" cy="71.5" r="5.3"/><circle cx="756.2" cy="95.1" r="5.3"/><circle cx="791.1" cy="139.5" r="5.3"/><circle cx="677.5" cy="115.3" r="5.3"/><circle cx="865.5" cy="29.5" r="5.3"/><circle cx="698.4" cy="84.9" r="5.1"/><circle cx="655.1" cy="130.1" r="5.0"/><circle cx="863.4" cy="152.5" r="5.0"/><circle cx="869.4" cy="82.7" r="5.0"/><circle cx="831.2" cy="163.2" r="4.9"/><circle cx="662.6" cy="117.3" r="4.9"/><circle cx="732.5" cy="124.9" r="4.8"/><circle cx="756.7" cy="34.6" r="4.8"/><circle cx="747.7" cy="128.0" r="4.8"/><circle cx="657.6" cy="140.9" r="4.7"/><circle cx="800.7" cy="40.5" r="4.7"/><circle cx="686.0" cy="82.3" r="4.7"/><circle cx="760.7" cy="106.4" r="4.6"/><circle cx="834.3" cy="78.0" r="4.6"/><circle cx="654.9" cy="55.3" r="4.6"/><circle cx="811.1" cy="150.9" r="4.5"/><circle cx="828.4" cy="171.7" r="4.5"/><circle cx="653.2" cy="151.4" r="4.4"/><circle cx="829.5" cy="71.4" r="4.4"/><circle cx="678.0" cy="124.8" r="4.3"/><circle cx="796.1" cy="130.3" r="4.2"/><circle cx="653.4" cy="121.4" r="4.2"/><circle cx="808.9" cy="162.9" r="4.2"/><circle cx="775.8" cy="146.2" r="4.2"/><circle cx="700.4" cy="54.6" r="4.2"/><circle cx="738.3" cy="97.8" r="4.1"/><circle cx="864.9" cy="185.4" r="4.1"/><circle cx="806.2" cy="134.1" r="4.1"/><circle cx="815.0" cy="116.7" r="4.0"/><circle cx="841.3" cy="95.2" r="4.0"/><circle cx="748.3" cy="137.1" r="4.0"/><circle cx="667.7" cy="34.8" r="4.0"/><circle cx="763.5" cy="30.2" r="4.0"/><circle cx="705.5" cy="125.4" r="4.0"/><circle cx="682.3" cy="30.8" r="3.9"/><circle cx="822.5" cy="88.9" r="3.9"/><circle cx="784.4" cy="88.9" r="3.9"/><circle cx="843.2" cy="84.1" r="3.8"/><circle cx="823.1" cy="75.0" r="3.8"/><circle cx="658.8" cy="83.6" r="3.8"/><circle cx="716.6" cy="173.2" r="3.7"/><circle cx="749.5" cy="119.4" r="3.7"/><circle cx="650.7" cy="48.3" r="3.7"/><circle cx="807.7" cy="95.2" r="3.7"/><circle cx="751.2" cy="39.9" r="3.6"/><circle cx="785.0" cy="109.2" r="3.6"/><circle cx="669.5" cy="180.3" r="3.6"/><circle cx="807.9" cy="76.7" r="3.6"/><circle cx="685.5" cy="181.6" r="3.6"/><circle cx="692.0" cy="157.5" r="3.6"/><circle cx="852.3" cy="124.9" r="3.6"/><circle cx="752.1" cy="80.7" r="3.6"/><circle cx="685.5" cy="115.4" r="3.5"/><circle cx="688.6" cy="138.2" r="3.5"/><circle cx="733.4" cy="37.6" r="3.5"/><circle cx="650.3" cy="137.8" r="3.5"/><circle cx="760.7" cy="64.6" r="3.5"/><circle cx="780.3" cy="72.8" r="3.4"/><circle cx="792.8" cy="172.7" r="3.4"/><circle cx="835.2" cy="97.5" r="3.3"/><circle cx="690.2" cy="66.7" r="3.3"/><circle cx="818.8" cy="130.8" r="3.2"/><circle cx="726.0" cy="153.0" r="3.2"/><circle cx="870.8" cy="109.8" r="3.2"/><circle cx="798.7" cy="109.2" r="3.1"/><circle cx="793.3" cy="158.7" r="3.1"/><circle cx="696.3" cy="187.8" r="3.1"/><circle cx="692.8" cy="79.0" r="3.1"/><circle cx="713.1" cy="40.6" r="3.0"/><circle cx="719.7" cy="98.8" r="3.0"/><circle cx="828.0" cy="49.2" r="2.9"/><circle cx="775.8" cy="57.4" r="2.9"/><circle cx="727.8" cy="83.1" r="2.9"/><circle cx="764.4" cy="82.3" r="2.8"/><circle cx="742.5" cy="156.0" r="2.8"/><circle cx="863.3" cy="163.0" r="2.8"/><circle cx="763.2" cy="187.8" r="2.7"/><circle cx="668.2" cy="96.5" r="2.7"/><circle cx="770.0" cy="159.9" r="2.7"/><circle cx="809.1" cy="156.9" r="2.6"/><circle cx="691.7" cy="85.7" r="2.4"/><circle cx="728.6" cy="172.2" r="2.4"/><circle cx="777.8" cy="180.8" r="2.3"/><circle cx="716.1" cy="155.9" r="2.3"/><circle cx="800.2" cy="85.3" r="2.3"/><circle cx="845.1" cy="166.5" r="2.2"/><circle cx="857.6" cy="74.7" r="2.2"/><circle cx="749.3" cy="96.1" r="2.0"/><circle cx="704.7" cy="51.4" r="2.0"/></g><g fill="url(#gB1)"><circle cx="774.5" cy="110.5" r="7.5"/><circle cx="870.2" cy="120.3" r="7.5"/><circle cx="834.0" cy="40.6" r="7.5"/><circle cx="785.4" cy="151.2" r="7.5"/><circle cx="865.2" cy="96.4" r="7.5"/><circle cx="798.6" cy="119.1" r="7.5"/><circle cx="684.2" cy="150.5" r="7.5"/><circle cx="737.7" cy="173.7" r="7.5"/><circle cx="875.1" cy="181.2" r="7.4"/><circle cx="871.4" cy="67.8" r="7.1"/><circle cx="768.4" cy="179.9" r="7.1"/><circle cx="814.0" cy="104.1" r="7.1"/><circle cx="791.4" cy="102.1" r="6.9"/><circle cx="769.4" cy="48.6" r="6.9"/><circle cx="752.8" cy="70.9" r="6.8"/><circle cx="674.7" cy="172.5" r="6.6"/><circle cx="828.0" cy="129.4" r="6.6"/><circle cx="858.0" cy="170.2" r="6.5"/><circle cx="710.7" cy="97.2" r="6.4"/><circle cx="818.9" cy="163.7" r="6.4"/><circle cx="814.3" cy="140.4" r="6.2"/><circle cx="713.5" cy="51.9" r="6.2"/><circle cx="693.4" cy="119.5" r="6.2"/><circle cx="839.7" cy="119.3" r="6.1"/><circle cx="849.9" cy="74.1" r="6.1"/><circle cx="654.1" cy="111.8" r="6.0"/><circle cx="869.4" cy="133.5" r="6.0"/><circle cx="699.3" cy="151.8" r="6.0"/><circle cx="843.6" cy="158.3" r="5.9"/><circle cx="715.6" cy="184.6" r="5.8"/><circle cx="835.2" cy="106.0" r="5.7"/><circle cx="857.3" cy="84.0" r="5.7"/><circle cx="685.0" cy="54.3" r="5.6"/><circle cx="709.9" cy="114.8" r="5.6"/><circle cx="754.3" cy="184.0" r="5.5"/><circle cx="734.8" cy="115.6" r="5.5"/><circle cx="707.6" cy="61.3" r="5.5"/><circle cx="803.4" cy="142.6" r="5.4"/><circle cx="854.6" cy="117.0" r="5.4"/><circle cx="694.2" cy="180.4" r="5.4"/><circle cx="677.5" cy="185.0" r="5.4"/><circle cx="677.2" cy="161.1" r="5.4"/><circle cx="801.9" cy="52.5" r="5.3"/><circle cx="821.6" cy="149.5" r="5.3"/><circle cx="800.7" cy="167.8" r="5.3"/><circle cx="756.7" cy="56.8" r="5.2"/><circle cx="807.5" cy="179.2" r="5.2"/><circle cx="800.4" cy="155.6" r="5.2"/><circle cx="712.3" cy="131.6" r="5.2"/><circle cx="770.0" cy="36.7" r="5.2"/><circle cx="873.8" cy="34.8" r="5.1"/><circle cx="764.3" cy="164.4" r="5.1"/><circle cx="865.6" cy="57.2" r="5.1"/><circle cx="709.2" cy="156.9" r="5.1"/><circle cx="658.4" cy="67.9" r="5.1"/><circle cx="850.7" cy="103.3" r="5.1"/><circle cx="806.5" cy="87.4" r="5.1"/><circle cx="855.4" cy="32.7" r="5.0"/><circle cx="722.6" cy="90.8" r="5.0"/><circle cx="808.4" cy="33.2" r="5.0"/><circle cx="789.2" cy="181.8" r="5.0"/><circle cx="849.2" cy="90.4" r="5.0"/><circle cx="776.8" cy="162.1" r="5.0"/><circle cx="685.7" cy="128.6" r="5.0"/><circle cx="846.9" cy="38.0" r="5.0"/><circle cx="778.3" cy="96.6" r="5.0"/><circle cx="691.4" cy="31.7" r="4.9"/><circle cx="676.4" cy="36.3" r="4.9"/><circle cx="875.0" cy="48.7" r="4.9"/><circle cx="845.7" cy="188.0" r="4.9"/><circle cx="793.6" cy="89.8" r="4.9"/><circle cx="843.9" cy="129.8" r="4.9"/><circle cx="816.7" cy="187.3" r="4.9"/><circle cx="847.0" cy="143.0" r="4.9"/><circle cx="747.3" cy="32.0" r="4.9"/><circle cx="714.6" cy="165.7" r="4.9"/><circle cx="803.1" cy="102.1" r="4.9"/><circle cx="740.6" cy="134.1" r="4.9"/><circle cx="682.0" cy="92.5" r="4.8"/><circle cx="842.4" cy="54.3" r="4.8"/><circle cx="660.8" cy="162.7" r="4.8"/><circle cx="721.6" cy="160.1" r="4.8"/><circle cx="662.5" cy="151.2" r="4.8"/><circle cx="826.8" cy="99.8" r="4.8"/><circle cx="716.1" cy="69.9" r="4.7"/><circle cx="863.6" cy="110.1" r="4.7"/><circle cx="837.8" cy="139.3" r="4.7"/><circle cx="829.7" cy="184.9" r="4.7"/><circle cx="733.7" cy="86.4" r="4.7"/><circle cx="653.1" cy="78.1" r="4.6"/><circle cx="756.9" cy="129.0" r="4.6"/><circle cx="766.2" cy="90.0" r="4.6"/><circle cx="790.8" cy="49.6" r="4.6"/><circle cx="706.7" cy="141.9" r="4.5"/><circle cx="711.7" cy="86.7" r="4.5"/><circle cx="729.7" cy="186.3" r="4.5"/><circle cx="693.0" cy="47.6" r="4.5"/><circle cx="806.9" cy="59.9" r="4.4"/><circle cx="650.0" cy="29.9" r="4.4"/><circle cx="853.7" cy="155.4" r="4.4"/><circle cx="706.7" cy="79.9" r="4.4"/><circle cx="723.6" cy="60.2" r="4.4"/><circle cx="653.2" cy="101.8" r="4.4"/><circle cx="778.1" cy="41.6" r="4.4"/><circle cx="715.8" cy="107.4" r="4.3"/><circle cx="670.2" cy="122.2" r="4.3"/><circle cx="829.2" cy="30.5" r="4.2"/><circle cx="668.8" cy="157.4" r="4.2"/><circle cx="686.0" cy="73.8" r="4.2"/><circle cx="786.9" cy="117.7" r="4.2"/><circle cx="788.4" cy="76.8" r="4.2"/><circle cx="705.9" cy="46.2" r="4.2"/><circle cx="673.9" cy="98.5" r="4.2"/><circle cx="859.7" cy="132.9" r="4.2"/><circle cx="868.9" cy="42.7" r="4.2"/><circle cx="667.8" cy="42.4" r="4.2"/><circle cx="821.6" cy="48.9" r="4.2"/><circle cx="682.3" cy="64.7" r="4.1"/><circle cx="855.4" cy="145.1" r="4.1"/><circle cx="850.8" cy="50.0" r="4.1"/><circle cx="874.8" cy="143.2" r="4.1"/><circle cx="828.7" cy="144.2" r="4.1"/><circle cx="698.7" cy="162.1" r="4.1"/><circle cx="743.1" cy="66.9" r="4.1"/><circle cx="767.7" cy="97.7" r="4.1"/><circle cx="817.1" cy="93.6" r="4.1"/><circle cx="863.0" cy="143.9" r="4.0"/><circle cx="861.6" cy="70.9" r="4.0"/><circle cx="663.5" cy="127.1" r="4.0"/><circle cx="650.6" cy="170.6" r="4.0"/><circle cx="873.9" cy="170.5" r="4.0"/><circle cx="684.3" cy="169.8" r="4.0"/><circle cx="677.1" cy="69.9" r="4.0"/><circle cx="685.6" cy="161.2" r="3.9"/><circle cx="797.8" cy="80.5" r="3.9"/><circle cx="741.5" cy="80.4" r="3.9"/><circle cx="694.2" cy="109.7" r="3.9"/><circle cx="778.5" cy="31.5" r="3.9"/><circle cx="785.0" cy="163.0" r="3.9"/><circle cx="674.5" cy="106.1" r="3.9"/><circle cx="751.6" cy="174.6" r="3.9"/><circle cx="673.5" cy="148.7" r="3.8"/><circle cx="666.7" cy="187.3" r="3.8"/><circle cx="840.6" cy="31.7" r="3.8"/><circle cx="743.1" cy="116.8" r="3.8"/><circle cx="651.1" cy="62.8" r="3.8"/><circle cx="867.2" cy="173.5" r="3.8"/><circle cx="739.0" cy="143.7" r="3.8"/><circle cx="827.4" cy="156.2" r="3.8"/><circle cx="689.9" cy="39.5" r="3.8"/><circle cx="650.1" cy="70.4" r="3.8"/><circle cx="792.3" cy="58.6" r="3.8"/><circle cx="856.4" cy="179.6" r="3.8"/><circle cx="800.6" cy="31.5" r="3.8"/><circle cx="746.7" cy="180.1" r="3.8"/><circle cx="728.0" cy="166.9" r="3.8"/><circle cx="756.8" cy="168.1" r="3.8"/><circle cx="763.1" cy="114.7" r="3.7"/><circle cx="850.3" cy="164.9" r="3.7"/><circle cx="807.3" cy="112.9" r="3.7"/><circle cx="874.2" cy="57.1" r="3.7"/><circle cx="863.6" cy="37.4" r="3.7"/><circle cx="781.2" cy="140.8" r="3.7"/><circle cx="839.4" cy="183.3" r="3.7"/><circle cx="778.4" cy="186.0" r="3.7"/><circle cx="770.4" cy="169.8" r="3.7"/><circle cx="825.1" cy="81.9" r="3.7"/><circle cx="650.2" cy="144.2" r="3.7"/><circle cx="734.8" cy="46.2" r="3.7"/><circle cx="737.2" cy="63.4" r="3.7"/><circle cx="724.3" cy="30.6" r="3.6"/><circle cx="713.7" cy="122.1" r="3.6"/><circle cx="661.5" cy="76.3" r="3.6"/><circle cx="760.1" cy="174.7" r="3.6"/><circle cx="863.3" cy="78.0" r="3.5"/><circle cx="861.4" cy="63.9" r="3.5"/><circle cx="664.5" cy="170.3" r="3.5"/><circle cx="816.6" cy="57.1" r="3.5"/><circle cx="869.3" cy="147.7" r="3.5"/><circle cx="708.7" cy="71.6" r="3.5"/><circle cx="796.1" cy="148.8" r="3.5"/><circle cx="858.0" cy="161.1" r="3.5"/><circle cx="762.2" cy="41.6" r="3.5"/><circle cx="798.7" cy="60.3" r="3.4"/><circle cx="740.8" cy="122.9" r="3.4"/><circle cx="699.2" cy="44.0" r="3.4"/><circle cx="875.7" cy="77.1" r="3.4"/><circle cx="731.0" cy="62.0" r="3.4"/><circle cx="858.7" cy="104.3" r="3.4"/><circle cx="699.0" cy="126.7" r="3.4"/><circle cx="874.5" cy="90.6" r="3.3"/><circle cx="847.8" cy="151.1" r="3.3"/><circle cx="689.3" cy="188.0" r="3.3"/><circle cx="707.3" cy="164.6" r="3.3"/><circle cx="809.1" cy="186.7" r="3.3"/><circle cx="722.7" cy="51.4" r="3.3"/><circle cx="739.4" cy="31.0" r="3.3"/><circle cx="844.5" cy="46.2" r="3.2"/><circle cx="724.0" cy="67.8" r="3.2"/><circle cx="749.5" cy="62.2" r="3.2"/><circle cx="703.2" cy="119.4" r="3.2"/><circle cx="707.3" cy="148.9" r="3.2"/><circle cx="730.6" cy="93.5" r="3.2"/><circle cx="822.1" cy="136.6" r="3.2"/><circle cx="704.7" cy="90.1" r="3.2"/><circle cx="739.6" cy="150.8" r="3.2"/><circle cx="736.5" cy="186.0" r="3.1"/><circle cx="683.7" cy="37.1" r="3.1"/><circle cx="792.3" cy="111.3" r="3.1"/><circle cx="676.3" cy="61.9" r="3.1"/><circle cx="855.8" cy="68.0" r="3.1"/><circle cx="656.8" cy="168.9" r="3.1"/><circle cx="848.3" cy="170.8" r="3.1"/><circle cx="673.5" cy="45.4" r="3.1"/><circle cx="788.4" cy="84.2" r="3.1"/><circle cx="837.1" cy="132.1" r="3.1"/><circle cx="781.9" cy="103.8" r="3.1"/><circle cx="669.5" cy="165.3" r="3.0"/><circle cx="791.2" cy="125.3" r="3.0"/><circle cx="863.7" cy="179.1" r="3.0"/><circle cx="842.3" cy="101.9" r="3.0"/><circle cx="767.8" cy="143.7" r="3.0"/><circle cx="712.9" cy="75.9" r="3.0"/><circle cx="667.5" cy="146.1" r="2.9"/><circle cx="807.8" cy="67.2" r="2.9"/><circle cx="829.6" cy="178.1" r="2.9"/><circle cx="744.3" cy="60.6" r="2.9"/><circle cx="754.3" cy="135.3" r="2.9"/><circle cx="767.7" cy="104.0" r="2.8"/><circle cx="684.4" cy="121.4" r="2.8"/><circle cx="656.9" cy="47.6" r="2.8"/><circle cx="661.0" cy="133.9" r="2.8"/><circle cx="669.5" cy="129.2" r="2.8"/><circle cx="679.6" cy="75.7" r="2.8"/><circle cx="830.8" cy="137.9" r="2.8"/><circle cx="868.8" cy="142.1" r="2.8"/><circle cx="796.8" cy="46.2" r="2.8"/><circle cx="729.8" cy="131.0" r="2.8"/><circle cx="682.4" cy="176.8" r="2.7"/><circle cx="784.1" cy="186.9" r="2.7"/><circle cx="834.4" cy="178.8" r="2.7"/><circle cx="747.3" cy="169.4" r="2.7"/><circle cx="762.6" cy="132.6" r="2.7"/><circle cx="712.8" cy="139.8" r="2.6"/><circle cx="830.9" cy="121.4" r="2.6"/><circle cx="857.0" cy="109.2" r="2.6"/><circle cx="734.3" cy="131.8" r="2.6"/><circle cx="822.4" cy="106.8" r="2.6"/><circle cx="835.4" cy="69.9" r="2.6"/><circle cx="792.1" cy="64.1" r="2.5"/><circle cx="849.0" cy="83.3" r="2.5"/><circle cx="865.8" cy="167.8" r="2.5"/><circle cx="826.6" cy="92.5" r="2.4"/><circle cx="662.8" cy="110.8" r="2.4"/><circle cx="847.2" cy="116.6" r="2.4"/><circle cx="825.9" cy="44.6" r="2.4"/><circle cx="772.7" cy="101.2" r="2.4"/><circle cx="702.5" cy="100.9" r="2.4"/><circle cx="667.0" cy="175.3" r="2.3"/><circle cx="676.5" cy="49.5" r="2.3"/><circle cx="864.7" cy="127.5" r="2.3"/><circle cx="812.4" cy="90.0" r="2.3"/><circle cx="709.6" cy="107.0" r="2.3"/><circle cx="825.2" cy="67.5" r="2.2"/><circle cx="756.9" cy="159.8" r="2.2"/><circle cx="690.6" cy="163.3" r="2.2"/><circle cx="836.2" cy="126.9" r="2.2"/><circle cx="815.6" cy="155.4" r="2.2"/><circle cx="701.0" cy="63.4" r="2.2"/><circle cx="771.8" cy="93.9" r="2.2"/><circle cx="743.9" cy="96.5" r="2.2"/><circle cx="753.2" cy="123.2" r="2.1"/><circle cx="838.7" cy="112.1" r="2.1"/><circle cx="805.5" cy="80.9" r="2.1"/><circle cx="705.8" cy="54.5" r="2.1"/><circle cx="777.5" cy="47.6" r="2.0"/><circle cx="673.9" cy="143.0" r="2.0"/><circle cx="738.6" cy="57.2" r="2.0"/><circle cx="784.6" cy="97.9" r="2.0"/><circle cx="779.4" cy="168.5" r="2.0"/></g><g fill="url(#gB2)"><circle cx="668.0" cy="54.8" r="8.5"/><circle cx="671.4" cy="84.0" r="9.3"/><circle cx="723.0" cy="41.0" r="7.5"/><circle cx="699.0" cy="72.0" r="7.0"/><circle cx="776.0" cy="82.0" r="7.5"/><circle cx="728.0" cy="103.0" r="7.0"/><circle cx="749.0" cy="148.0" r="7.5"/><circle cx="719.5" cy="146.0" r="7.0"/><circle cx="798.6" cy="70.0" r="7.0"/><circle cx="788.5" cy="37.7" r="7.5"/><circle cx="732.1" cy="74.5" r="7.5"/><circle cx="704.5" cy="35.2" r="7.5"/><circle cx="746.8" cy="105.6" r="7.3"/><circle cx="816.6" cy="67.1" r="6.6"/><circle cx="784.0" cy="130.7" r="6.6"/><circle cx="657.8" cy="38.5" r="6.5"/><circle cx="668.5" cy="137.6" r="6.4"/><circle cx="833.8" cy="88.2" r="6.4"/><circle cx="798.1" cy="187.9" r="6.3"/><circle cx="697.6" cy="135.3" r="6.2"/><circle cx="767.9" cy="151.7" r="5.9"/><circle cx="839.1" cy="171.6" r="5.9"/><circle cx="744.9" cy="52.5" r="5.9"/><circle cx="695.6" cy="97.2" r="5.8"/><circle cx="663.3" cy="102.6" r="5.8"/><circle cx="782.1" cy="174.8" r="5.7"/><circle cx="784.6" cy="65.0" r="5.7"/><circle cx="811.5" cy="126.2" r="5.6"/><circle cx="857.8" cy="43.8" r="5.5"/><circle cx="837.3" cy="62.6" r="5.5"/><circle cx="731.1" cy="139.2" r="5.5"/><circle cx="815.6" cy="82.0" r="5.5"/><circle cx="668.2" cy="68.4" r="5.4"/><circle cx="724.2" cy="177.8" r="5.4"/><circle cx="856.1" cy="187.9" r="5.4"/><circle cx="853.2" cy="60.6" r="5.2"/><circle cx="692.9" cy="170.0" r="5.2"/><circle cx="811.4" cy="50.9" r="5.2"/><circle cx="703.0" cy="107.5" r="5.1"/><circle cx="731.5" cy="54.0" r="5.0"/><circle cx="750.1" cy="162.4" r="4.9"/><circle cx="761.6" cy="139.4" r="4.8"/><circle cx="743.6" cy="187.2" r="4.7"/><circle cx="680.4" cy="137.6" r="4.7"/><circle cx="782.0" cy="54.8" r="4.6"/><circle cx="769.3" cy="59.8" r="4.6"/><circle cx="755.9" cy="46.5" r="4.5"/><circle cx="852.1" cy="135.2" r="4.5"/><circle cx="847.4" cy="178.2" r="4.5"/><circle cx="650.5" cy="186.7" r="4.4"/><circle cx="845.7" cy="110.8" r="4.4"/><circle cx="715.7" cy="32.5" r="4.4"/><circle cx="723.2" cy="131.4" r="4.4"/><circle cx="732.1" cy="30.6" r="4.3"/><circle cx="874.1" cy="103.3" r="4.3"/><circle cx="834.4" cy="152.1" r="4.3"/><circle cx="756.5" cy="117.6" r="4.2"/><circle cx="798.9" cy="176.2" r="4.2"/><circle cx="792.0" cy="165.5" r="4.2"/><circle cx="770.9" cy="136.2" r="4.2"/><circle cx="760.9" cy="77.1" r="4.2"/><circle cx="775.0" cy="67.0" r="4.1"/><circle cx="704.7" cy="186.1" r="4.1"/><circle cx="841.3" cy="70.6" r="4.1"/><circle cx="810.7" cy="170.2" r="4.1"/><circle cx="758.4" cy="154.4" r="4.1"/><circle cx="693.8" cy="61.3" r="4.1"/><circle cx="742.0" cy="162.4" r="4.0"/><circle cx="660.6" cy="93.6" r="4.0"/><circle cx="860.1" cy="123.9" r="3.9"/><circle cx="731.9" cy="148.0" r="3.8"/><circle cx="820.0" cy="124.0" r="3.7"/><circle cx="801.1" cy="94.3" r="3.7"/><circle cx="808.1" cy="42.3" r="3.7"/><circle cx="757.2" cy="87.0" r="3.7"/><circle cx="833.7" cy="53.5" r="3.7"/><circle cx="668.7" cy="110.7" r="3.6"/><circle cx="694.6" cy="144.4" r="3.6"/><circle cx="857.2" cy="52.7" r="3.6"/><circle cx="840.5" cy="147.2" r="3.6"/><circle cx="690.1" cy="90.7" r="3.6"/><circle cx="779.9" cy="120.3" r="3.5"/><circle cx="721.5" cy="169.0" r="3.5"/><circle cx="782.3" cy="47.2" r="3.4"/><circle cx="716.5" cy="62.5" r="3.3"/><circle cx="743.3" cy="73.6" r="3.2"/><circle cx="845.7" cy="63.7" r="3.2"/><circle cx="674.5" cy="130.4" r="3.1"/><circle cx="760.7" cy="147.8" r="3.1"/><circle cx="802.3" cy="128.4" r="3.0"/><circle cx="864.2" cy="48.9" r="3.0"/><circle cx="719.5" cy="125.4" r="3.0"/><circle cx="687.1" cy="175.4" r="3.0"/><circle cx="737.3" cy="105.5" r="2.9"/><circle cx="693.3" cy="127.8" r="2.9"/><circle cx="846.8" cy="123.5" r="2.9"/><circle cx="854.5" cy="95.6" r="2.9"/><circle cx="816.4" cy="45.6" r="2.9"/><circle cx="776.1" cy="154.1" r="2.8"/><circle cx="755.2" cy="110.1" r="2.7"/><circle cx="761.6" cy="99.8" r="2.6"/><circle cx="717.5" cy="137.4" r="2.6"/><circle cx="841.0" cy="78.4" r="2.6"/><circle cx="843.6" cy="136.6" r="2.6"/><circle cx="798.8" cy="136.7" r="2.5"/><circle cx="808.1" cy="119.9" r="2.3"/><circle cx="785.2" cy="94.5" r="2.3"/><circle cx="735.3" cy="92.7" r="2.0"/></g></g><defs><linearGradient id="ovB" x1="0" y1="0" x2="1" y2="1"><stop offset="0" stop-color="#000" stop-opacity="0"/><stop offset="0.45" stop-color="#000" stop-opacity="0.08"/><stop offset="1" stop-color="#000" stop-opacity="0.38"/></linearGradient></defs><rect x="650" y="30" width="226" height="159" fill="url(#ovB)"/><rect x="803.20" y="174.90" width="41.80" height="4.70" fill="#111" stroke="#fff" stroke-width="1.3"/><g filter="url(#tbB)"><text transform="translate(792.10,166.00) scale(0.926,1)" style="font-size:23.2px;fill:#fff;stroke:#fff;stroke-width:3.6px;stroke-linejoin:round">100 μm</text><text transform="translate(792.10,166.00) scale(0.926,1)" style="font-size:23.2px;fill:#111;stroke:#111;stroke-width:0.25px">100 μm</text></g></g><rect x="652.60" y="32.30" width="221.40" height="154.70" fill="none" stroke="#3a86c6" stroke-width="1.70"/>
<!--CAPTION-->
<g>
<text class="cjk" x="144.90" y="407.00">图</text>
<text class="cjk" x="211.00 234.85 258.70 282.55 306.40 330.25 354.10 377.95 401.80 425.65 449.50" y="407.00">合金粉末形貌和粒径分布</text>
<text class="cjk" x="486.54" y="407.00">（</text>
<text class="cjk" x="525.51" y="407.00">）</text>
<text class="cjk" x="625.04" y="407.00">（</text>
<text class="cjk" x="665.51" y="407.00">）</text>
</g>
<text class="cap" transform="translate(175.61,406.20) scale(1.0000,1)" style="font-size:23.80px">1</text>
<text class="cap" transform="translate(511.86,406.20) scale(1.0000,1)" style="font-size:23.80px">a</text>
<text class="cap" transform="translate(541.71,406.20) scale(1.0101,1)" style="font-size:23.80px">GH3536</text>
<text class="cap" transform="translate(625.87,406.20) scale(1.0000,1)" style="font-size:23.80px">;</text>
<text class="cap" transform="translate(651.10,406.20) scale(1.0000,1)" style="font-size:23.80px">b</text>
<text class="cap" transform="translate(681.63,406.20) scale(0.9897,1)" style="font-size:23.80px">GH4169</text>
<g>
<text class="cjk" x="593.24" y="445.60">（</text>
<text class="cjk" x="632.01" y="445.60">）</text>
<text class="cjk" x="732.14" y="445.60">（</text>
<text class="cjk" x="772.11" y="445.60">）</text>
</g>
<text class="cap" transform="translate(39.44,445.30) scale(0.9854,1)" style="font-size:23.10px">Fig.</text>
<text class="cap" transform="translate(79.97,445.30) scale(1.0000,1)" style="font-size:23.10px">1</text>
<text class="cap" transform="translate(119.34,445.30) scale(0.9984,1)" style="font-size:23.10px">Morphologies</text>
<text class="cap" transform="translate(258.48,445.30) scale(1.0137,1)" style="font-size:23.10px">and</text>
<text class="cap" transform="translate(298.91,445.30) scale(1.0443,1)" style="font-size:23.10px">particle</text>
<text class="cap" transform="translate(377.44,445.30) scale(1.0127,1)" style="font-size:23.10px">size</text>
<text class="cap" transform="translate(420.12,445.30) scale(1.0000,1)" style="font-size:23.10px">of</text>
<text class="cap" transform="translate(447.10,445.30) scale(0.9893,1)" style="font-size:23.10px">alloy</text>
<text class="cap" transform="translate(500.31,445.30) scale(1.0369,1)" style="font-size:23.10px">powders</text>
<text class="cap" transform="translate(619.09,445.30) scale(1.0000,1)" style="font-size:23.10px">a</text>
<text class="cap" transform="translate(648.62,445.30) scale(1.0356,1)" style="font-size:23.10px">GH3536</text>
<text class="cap" transform="translate(733.30,445.30) scale(1.0000,1)" style="font-size:23.10px">;</text>
<text class="cap" transform="translate(758.00,445.30) scale(1.0000,1)" style="font-size:23.10px">b</text>
<text class="cap" transform="translate(788.32,445.30) scale(1.0339,1)" style="font-size:23.10px">GH4169</text>
</svg>
</body></html>
